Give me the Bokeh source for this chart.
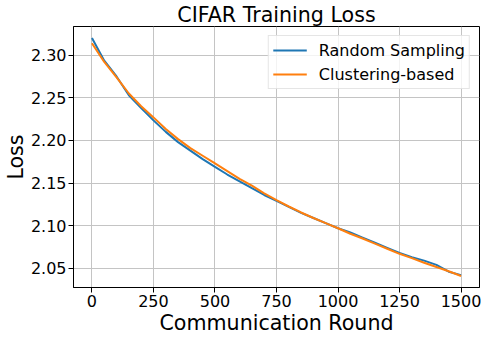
from bokeh.plotting import figure
from bokeh.models import Range1d, FixedTicker, NumeralTickFormatter
from bokeh.embed import file_html
from bokeh.resources import INLINE

rounds = [0, 50, 100, 150, 200, 250, 300, 350, 400, 450, 500, 550, 600, 650, 700,
          750, 800, 850, 900, 950, 1000, 1050, 1100, 1150, 1200, 1250, 1300, 1350,
          1400, 1450, 1500]
random_loss = [2.320, 2.2935, 2.275, 2.253, 2.238, 2.2235, 2.210, 2.198, 2.188, 2.178,
               2.169, 2.160, 2.152, 2.144, 2.136, 2.129, 2.122, 2.115, 2.109, 2.103,
               2.097, 2.092, 2.086, 2.080, 2.074, 2.068, 2.063, 2.059, 2.054, 2.046,
               2.042]
cluster_loss = [2.314, 2.292, 2.274, 2.255, 2.240, 2.227, 2.2135, 2.2015, 2.191, 2.182,
                2.173, 2.164, 2.155, 2.147, 2.138, 2.130, 2.1225, 2.1155, 2.109, 2.103,
                2.097, 2.0905, 2.085, 2.079, 2.073, 2.067, 2.062, 2.0565, 2.0515, 2.0465,
                2.041]
x_ticks = [0, 250, 500, 750, 1000, 1250, 1500]
y_ticks = [2.05, 2.10, 2.15, 2.20, 2.25, 2.30]

FONT = "DejaVu Sans"

p = figure(width=481, height=337, output_backend="svg", toolbar_location=None,
           x_range=Range1d(-75, 1575), y_range=Range1d(2.0275, 2.3336),
           min_border_left=71, min_border_right=2, min_border_top=23, min_border_bottom=50,
           background_fill_color="white", border_fill_color="white")

p.title.text = "CIFAR Training Loss"
p.title.align = "center"
p.title.text_font = FONT
p.title.text_font_size = "20.6px"
p.title.text_font_style = "normal"
p.title.text_color = "black"
p.title.text_line_height = 0.8
p.title.standoff = 0

p.line(rounds, random_loss, line_color="#1f77b4", line_width=2, legend_label="Random Sampling")
p.line(rounds, cluster_loss, line_color="#ff7f0e", line_width=2, legend_label="Clustering-based")

p.xaxis.ticker = FixedTicker(ticks=x_ticks)
p.yaxis.ticker = FixedTicker(ticks=y_ticks)
p.yaxis.formatter = NumeralTickFormatter(format="0.00")
p.xaxis.axis_label = "Communication Round"
p.yaxis.axis_label = "Loss"

for ax in (p.xaxis, p.yaxis):
    ax.axis_label_text_font = FONT
    ax.axis_label_text_font_size = "20.6px"
    ax.axis_label_text_font_style = "normal"
    ax.axis_label_text_color = "black"
    ax.axis_label_text_line_height = 1.0
    ax.major_label_text_font = FONT
    ax.major_label_text_font_size = "16px"
    ax.major_label_text_color = "black"
    ax.major_label_text_line_height = 1.0
    ax.major_tick_in = 0
    ax.major_tick_out = 5
    ax.major_tick_line_color = "black"
    ax.minor_tick_line_color = None
    ax.axis_line_color = "black"

p.yaxis.axis_label_text_line_height = 0.75
p.yaxis.major_label_standoff = 2
p.yaxis.axis_label_standoff = 0
p.xaxis.major_label_standoff = 2
p.xaxis.axis_label_standoff = 1

p.grid.grid_line_color = "#c4c4c4"
p.grid.grid_line_width = 1
p.outline_line_color = "black"
p.outline_line_width = 1

lg = p.legend[0]
lg.location = "top_right"
lg.margin = 9
lg.padding = 4
lg.spacing = 4
lg.glyph_width = 34
lg.glyph_height = 20
lg.label_height = 20
lg.label_standoff = 12
lg.label_text_font = FONT
lg.label_text_font_size = "16px"
lg.label_text_color = "black"
lg.border_line_color = "#cccccc"
lg.border_line_width = 1
lg.background_fill_alpha = 0.8

open("out.html", "w").write(file_html(p, INLINE))
